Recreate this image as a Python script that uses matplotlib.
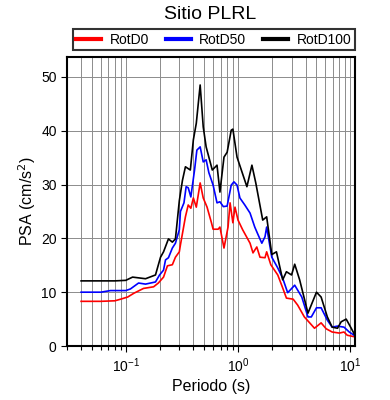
import matplotlib
matplotlib.use("Agg")
import matplotlib.pyplot as plt
from matplotlib.ticker import LogLocator, NullFormatter

plt.rcParams['font.family'] = ['Liberation Sans', 'DejaVu Sans']

# RotD100 (black)
t_d100 = [0.04, 0.06, 0.08, 0.1, 0.115, 0.15, 0.184, 0.204, 0.217, 0.24, 0.26, 0.277, 0.30,
          0.32, 0.34, 0.376, 0.40, 0.425, 0.46, 0.49, 0.52, 0.59, 0.65, 0.69, 0.75, 0.80,
          0.87, 0.90, 0.98, 1.2, 1.33, 1.44, 1.66, 1.8, 2.0, 2.2, 2.5, 2.7, 3.0, 3.2, 3.54,
          4.2, 5.0, 5.5, 6.25, 6.9, 7.7, 8.3, 9.2, 10.2, 11.0]
v_d100 = [12.1, 12.1, 12.1, 12.2, 12.8, 12.5, 13.2, 16.5, 17.5, 19.9, 19.3, 19.9, 27.0,
          30.8, 33.3, 32.7, 38.3, 41.4, 48.5, 40.7, 37.0, 32.7, 33.6, 28.6, 35.1, 36.0,
          40.1, 40.3, 35.1, 29.6, 33.6, 30.3, 23.4, 24.0, 17.0, 17.5, 12.3, 13.8, 13.2, 15.2, 12.3,
          6.1, 10.0, 9.1, 5.4, 3.5, 3.3, 4.5, 5.0, 3.3, 2.0]

# RotD50 (blue)
t_d50 = [0.04, 0.06, 0.073, 0.1, 0.11, 0.13, 0.15, 0.184, 0.2, 0.217, 0.226, 0.24, 0.26, 0.277,
         0.30, 0.307, 0.33, 0.345, 0.36, 0.38, 0.41, 0.43, 0.46, 0.49, 0.52, 0.55, 0.60, 0.65,
         0.69, 0.74, 0.80, 0.87, 0.92, 0.98, 1.04, 1.15, 1.28, 1.41, 1.5, 1.63, 1.74, 1.8, 2.0,
         2.26, 2.5, 2.77, 3.2, 3.7, 4.2, 4.5, 5.0, 5.5, 6.25, 6.9, 7.7, 8.8, 9.8, 11.0]
v_d50 = [10.0, 10.0, 10.3, 10.3, 10.6, 11.7, 11.5, 11.9, 13.2, 14.1, 16.0, 16.4, 18.2, 19.1,
         21.6, 25.0, 26.6, 29.6, 29.4, 27.7, 32.7, 36.4, 37.0, 34.2, 34.6, 32.2, 29.9, 26.6,
         26.8, 25.9, 26.0, 29.9, 30.5, 29.9, 27.5, 26.2, 24.7, 22.1, 20.8, 19.1, 20.3, 22.1, 16.5,
         14.5, 12.6, 9.9, 11.3, 9.1, 5.4, 5.4, 7.1, 7.1, 4.8, 3.5, 3.7, 3.5, 2.6, 1.9]

# RotD0 (red)
t_d0 = [0.04, 0.06, 0.08, 0.09, 0.104, 0.118, 0.144, 0.177, 0.195, 0.217, 0.235, 0.26, 0.277,
        0.30, 0.307, 0.34, 0.36, 0.38, 0.40, 0.425, 0.46, 0.49, 0.53, 0.58, 0.60, 0.665, 0.69,
        0.75, 0.815, 0.85, 0.90, 0.94, 1.0, 1.1, 1.28, 1.36, 1.47, 1.57, 1.74, 1.8, 1.96, 2.26,
        2.5, 2.7, 3.1, 3.4, 3.9, 4.35, 4.8, 5.5, 6.1, 6.9, 8.0, 8.8, 9.4, 11.0]
v_d0 = [8.3, 8.3, 8.4, 8.7, 9.1, 9.8, 10.7, 11.0, 11.7, 12.8, 14.9, 15.1, 16.5,
        17.5, 18.8, 24.0, 26.2, 25.6, 27.5, 25.8, 30.3, 27.5, 25.8, 22.9, 21.7, 21.7, 22.1,
        18.2, 22.1, 26.6, 22.9, 25.8, 23.4, 21.6, 19.1, 17.3, 18.4, 16.5, 16.4, 17.5, 15.1, 13.2,
        10.8, 8.9, 8.7, 7.6, 5.4, 4.3, 3.3, 4.3, 3.2, 2.6, 2.4, 2.6, 2.0, 1.7]

labels = ['RotD0', 'RotD50', 'RotD100']
colors = ['red', 'blue', 'black']

fig = plt.figure(figsize=(3.9, 4.0), dpi=100)
ax = fig.add_axes([0.172, 0.135, 0.738, 0.7225])

for t, v, lab, c in zip([t_d0, t_d50, t_d100], [v_d0, v_d50, v_d100], labels, colors):
    ax.plot(t, v, color=c, lw=1.2, label=lab)

ax.set_xscale('log')
ax.set_xlim(0.03, 11)
ax.set_ylim(0, 53.7)
ax.set_yticks([0, 10, 20, 30, 40, 50])
ax.xaxis.set_major_locator(LogLocator(base=10))
ax.xaxis.set_minor_locator(LogLocator(base=10, subs=range(2, 10)))
ax.xaxis.set_minor_formatter(NullFormatter())
ax.grid(True, which='major', axis='both', color='#8c8c8c', lw=0.7)
ax.grid(True, which='minor', axis='x', color='#8c8c8c', lw=0.7)
ax.set_axisbelow(True)
for s in ax.spines.values():
    s.set_linewidth(1.5)
ax.tick_params(axis='both', which='major', direction='out', length=4, labelsize=10, width=0.8)
ax.tick_params(axis='x', which='minor', direction='out', length=3, width=0.8)

ax.set_xlabel('Periodo (s)', fontsize=11.5, labelpad=3)
ax.set_ylabel('PSA (cm/s$^2$)', fontsize=11.5, labelpad=2)
fig.text(0.54, 0.963, 'Sitio PLRL', ha='center', va='center', fontsize=14)

leg = ax.legend(loc='lower left', bbox_to_anchor=(0.02, 1.024, 0.98, 0.076), mode='expand',
                ncol=3, borderaxespad=0, fontsize=10, frameon=True, fancybox=False,
                handlelength=1.8, handletextpad=0.6, columnspacing=1.0, borderpad=0.25)
leg.get_frame().set_edgecolor('black')
leg.get_frame().set_linewidth(1.5)
for h in leg.get_lines():
    h.set_linewidth(3)

fig.savefig('out.png', dpi=100)
